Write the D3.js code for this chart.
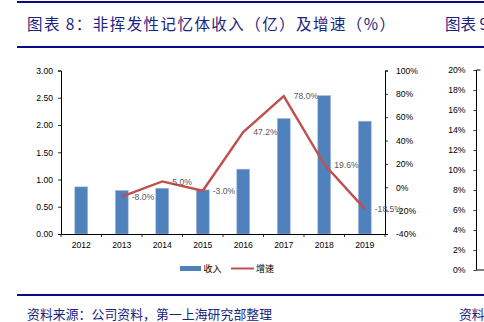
<!DOCTYPE html>
<html><head><meta charset="utf-8">
<script src="https://cdn.jsdelivr.net/npm/d3@7"></script>
<style>body{margin:0;background:#fff;}svg{display:block;}</style>
</head><body>
<svg id="c" width="484" height="322"></svg>
<script>
const years = ["2012","2013","2014","2015","2016","2017","2018","2019"];
const revenue = [0.865, 0.80, 0.84, 0.81, 1.19, 2.12, 2.54, 2.07];
const growthYears = ["2013","2014","2015","2016","2017","2018","2019"];
const growth = [-8.0, 5.0, -3.0, 47.2, 78.0, 19.6, -18.5];
const leftTicks = [0,0.5,1,1.5,2,2.5,3];
const rightTicks = [-40,-20,0,20,40,60,80,100];
const sideTicks = [0,2,4,6,8,10,12,14,16,18,20];
const titleText = "图表 8：非挥发性记忆体收入（亿）及增速（%）";
const titleText2 = "图表 9";
const sourceText = "资料来源：公司资料，第一上海研究部整理";
const sourceText2 = "资料";
const legendLabels = ["收入","增速"];

const svg = d3.select("#c");
const navy = "#0b0b8a";
const cjk = "'Noto Sans CJK SC', sans-serif";
const lat = "'Liberation Sans', Arial, sans-serif";

// rules
svg.append("rect").attr("x",17).attr("y",1).attr("width",467).attr("height",2).attr("fill",navy);
svg.append("rect").attr("x",17).attr("y",46).attr("width",467).attr("height",2).attr("fill",navy);
svg.append("rect").attr("x",17).attr("y",294).attr("width",467).attr("height",2).attr("fill",navy);

svg.append("text").attr("x",27).attr("y",30).attr("font-family",cjk).attr("font-size",15.5)
  .attr("fill","#1a237e").attr("textLength",368).attr("lengthAdjust","spacing").text(titleText);
svg.append("text").attr("x",445).attr("y",30).attr("font-family",cjk).attr("font-size",15.5)
  .attr("fill","#1a237e").text(titleText2);
svg.append("text").attr("x",27).attr("y",319).attr("font-family",cjk).attr("font-size",12.8)
  .attr("fill","#1a237e").attr("textLength",245).attr("lengthAdjust","spacing").text(sourceText);
svg.append("text").attr("x",459).attr("y",319).attr("font-family",cjk).attr("font-size",12.8)
  .attr("fill","#1a237e").text(sourceText2);

// main chart
const x0 = 61, x1 = 385, yTop = 70.5, yBot = 234;
const x = d3.scaleBand().domain(years).range([x0,x1]).paddingInner(0).paddingOuter(0);
const yL = d3.scaleLinear().domain([0,3]).range([yBot,yTop]);
const yR = d3.scaleLinear().domain([-40,100]).range([yBot,yTop]);

const g = svg.append("g");
const bw = x.bandwidth()*0.32;
g.selectAll("rect.bar").data(years).enter().append("rect")
  .attr("x",d=>x(d)+x.bandwidth()/2-bw/2)
  .attr("y",(d,i)=>yL(revenue[i]))
  .attr("width",bw)
  .attr("height",(d,i)=>yBot-yL(revenue[i]))
  .attr("fill","#4f81bd").attr("stroke","#a9c0de").attr("stroke-width",0.6);

// axes
const axL = d3.axisLeft(yL).tickValues(leftTicks).tickFormat(d3.format(".2f")).tickSize(3).tickPadding(5);
const gl = svg.append("g").attr("transform",`translate(${x0},0)`).call(axL);
const axR = d3.axisRight(yR).tickValues(rightTicks).tickFormat(d=>d+"%").tickSize(3).tickPadding(8);
const gr = svg.append("g").attr("transform",`translate(${x1},0)`).call(axR);
const axB = d3.axisBottom(x).tickSize(0).tickPadding(8);
const gb = svg.append("g").attr("transform",`translate(0,${yBot})`).call(axB);
// boundary ticks
svg.append("g").selectAll("line").data(d3.range(years.length+1)).enter().append("line")
  .attr("x1",i=>x0+i*x.bandwidth()).attr("x2",i=>x0+i*x.bandwidth())
  .attr("y1",yBot).attr("y2",yBot+3).attr("stroke","#000").attr("stroke-width",0.8);

[gl,gr,gb].forEach(a=>{
  a.selectAll("path").attr("stroke","#000").attr("stroke-width",1);
  a.selectAll("line").attr("stroke","#000").attr("stroke-width",0.8);
  a.selectAll("text").attr("font-family",lat).attr("font-size",8.6).attr("fill","#000");
});

// line
const line = d3.line().x((d,i)=>x(growthYears[i])+x.bandwidth()/2).y(d=>yR(d));
svg.append("path").datum(growth).attr("d",line).attr("fill","none")
  .attr("stroke","#c0504d").attr("stroke-width",2.4).attr("stroke-linejoin","miter");
svg.append("g").selectAll("text").data(growth).enter().append("text")
  .attr("x",(d,i)=>x(growthYears[i])+x.bandwidth()/2+10)
  .attr("y",d=>yR(d)+3.2)
  .attr("font-family",lat).attr("font-size",8.6).attr("fill","#595959")
  .text(d=>d.toFixed(1)+"%");

// legend
svg.append("rect").attr("x",180).attr("y",266).attr("width",21).attr("height",5).attr("fill","#4f81bd");
svg.append("text").attr("x",203.5).attr("y",272).attr("font-family",cjk).attr("font-size",9).attr("fill","#000").text(legendLabels[0]);
svg.append("line").attr("x1",231).attr("x2",254).attr("y1",268.5).attr("y2",268.5).attr("stroke","#c0504d").attr("stroke-width",2);
svg.append("text").attr("x",256).attr("y",272).attr("font-family",cjk).attr("font-size",9).attr("fill","#000").text(legendLabels[1]);

// side partial chart
const yS = d3.scaleLinear().domain([0,20]).range([270,70]);
const axS = d3.axisLeft(yS).tickValues(sideTicks).tickFormat(d=>d+"%").tickSize(3).tickPadding(8);
const gs = svg.append("g").attr("transform","translate(476.5,0)").call(axS);
gs.select("path").remove();
gs.append("line").attr("x1",0).attr("x2",0).attr("y1",70).attr("y2",270).attr("stroke","#000");
gs.append("line").attr("x1",0).attr("x2",4).attr("y1",70).attr("y2",70).attr("stroke","#000");
gs.append("line").attr("x1",0).attr("x2",10).attr("y1",270).attr("y2",270).attr("stroke","#000");
gs.selectAll(".tick line").attr("stroke","#000").attr("stroke-width",0.8);
gs.selectAll("text").attr("font-family",lat).attr("font-size",8.6).attr("fill","#000");
</script>
</body></html>
